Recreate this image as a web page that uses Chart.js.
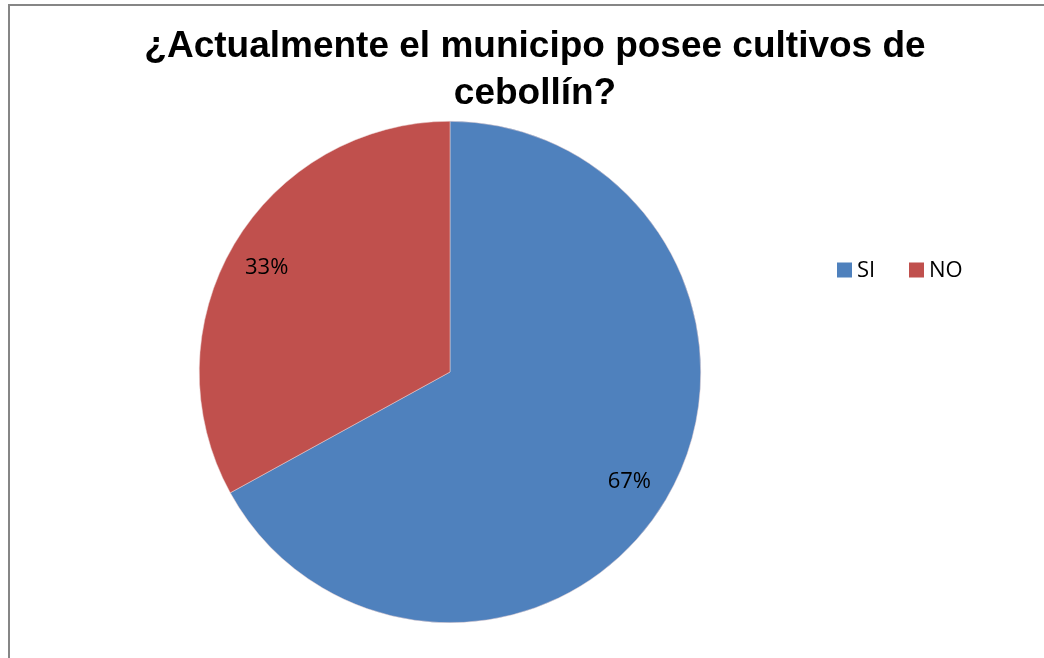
<!DOCTYPE html>
<html>
<head>
<meta charset="utf-8">
<script src="https://cdn.jsdelivr.net/npm/chart.js@4/dist/chart.umd.min.js"></script>
<style>
  html, body { margin: 0; padding: 0; background: #ffffff; }
  #wrap { position: relative; width: 1044px; height: 658px; }
</style>
</head>
<body>
<div id="wrap"><canvas id="c" width="1044" height="658"></canvas></div>
<script>
const categories = ['SI', 'NO'];
const percentages = [67, 33];
const sliceColors = ['#4F81BD', '#C0504D'];
const titleLines = ['¿Actualmente el municipo posee cultivos de', 'cebollín?'];

// Outer frame of the chart object (top and left edges)
const framePlugin = {
  id: 'frame',
  beforeDraw(chart) {
    const ctx = chart.ctx;
    ctx.save();
    ctx.strokeStyle = '#868686';
    ctx.lineWidth = 2;
    ctx.beginPath();
    ctx.moveTo(chart.width + 2, 5);
    ctx.lineTo(9, 5);
    ctx.lineTo(9, chart.height + 2);
    ctx.stroke();
    ctx.restore();
  }
};

// Two-line bold title, centred on the frame
const titlePlugin = {
  id: 'titleLines',
  afterDraw(chart) {
    const ctx = chart.ctx;
    ctx.save();
    ctx.fillStyle = '#000000';
    ctx.font = 'bold 37px "Liberation Sans", Arial, sans-serif';
    ctx.textAlign = 'center';
    ctx.textBaseline = 'alphabetic';
    titleLines.forEach((line, i) => ctx.fillText(line, 535, 57 + i * 47));
    ctx.restore();
  }
};

// Percentage labels inside each slice
const sliceLabelPlugin = {
  id: 'sliceLabels',
  afterDatasetsDraw(chart) {
    const ctx = chart.ctx;
    const meta = chart.getDatasetMeta(0);
    ctx.save();
    ctx.fillStyle = '#000000';
    ctx.font = '22px "Open Sans", Calibri, sans-serif';
    ctx.textAlign = 'center';
    ctx.textBaseline = 'middle';
    meta.data.forEach((arc, i) => {
      const mid = (arc.startAngle + arc.endAngle) / 2;
      const r = arc.outerRadius * 0.84;
      const x = arc.x + Math.cos(mid) * r;
      const y = arc.y + Math.sin(mid) * r;
      ctx.fillText(percentages[i] + '%', x - 2, y + 3);
    });
    ctx.restore();
  }
};

// Horizontal legend to the right of the pie
const legendPlugin = {
  id: 'rowLegend',
  afterDraw(chart) {
    const ctx = chart.ctx;
    const area = chart.chartArea;
    ctx.save();
    ctx.font = '22px "Open Sans", Calibri, sans-serif';
    ctx.textBaseline = 'middle';
    ctx.textAlign = 'left';
    let x = area.right + 136;
    const y = 270;
    categories.forEach((label, i) => {
      ctx.fillStyle = sliceColors[i];
      ctx.fillRect(x, y - 7.5, 15, 15);
      ctx.fillStyle = '#000000';
      ctx.fillText(label, x + 20, y + 1);
      x += 72;
    });
    ctx.restore();
  }
};

new Chart(document.getElementById('c'), {
  type: 'pie',
  data: {
    labels: categories,
    datasets: [{
      data: percentages,
      backgroundColor: sliceColors,
      borderColor: '#e8d0d0',
      borderWidth: 0.5
    }]
  },
  options: {
    responsive: false,
    animation: false,
    layout: { padding: { top: 121, bottom: 35, left: 199, right: 343 } },
    plugins: {
      legend: { display: false },
      title: { display: false },
      tooltip: { enabled: false }
    }
  },
  plugins: [framePlugin, titlePlugin, sliceLabelPlugin, legendPlugin]
});
</script>
</body>
</html>
